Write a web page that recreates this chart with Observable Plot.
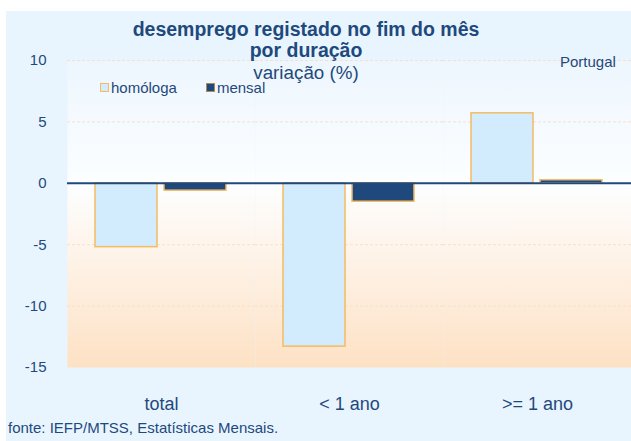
<!DOCTYPE html>
<html>
<head>
<meta charset="utf-8">
<script src="https://cdn.jsdelivr.net/npm/d3@7"></script>
<script src="https://cdn.jsdelivr.net/npm/@observablehq/plot@0.6"></script>
<style>
  html, body { margin: 0; padding: 0; background: #ffffff; }
  #wrap { position: relative; width: 631px; height: 441px; overflow: hidden; font-family: "Liberation Sans", Arial, sans-serif; color: #1f497d; }
  #panel { position: absolute; left: 6px; top: 11px; right: 0; bottom: 0; background: #e8f5fe; }
  #chart { position: absolute; left: 0; top: 0; }
  .t { position: absolute; left: 0; width: 612px; text-align: center; white-space: nowrap; line-height: 1; }
  .b { font-weight: bold; font-size: 19.5px; }
  #leg { position: absolute; top: 80px; left: 100px; font-size: 15px; line-height: 1; white-space: nowrap; }
  #leg span.sw { display: inline-block; width: 7px; height: 7px; margin-right: 2px; vertical-align: 1px; }
  #cap { position: absolute; left: 8px; top: 420px; font-size: 15px; line-height: 1; white-space: nowrap; }
  #pt { position: absolute; left: 560px; top: 54px; font-size: 15px; line-height: 1; }
</style>
</head>
<body>
<div id="wrap">
  <div id="panel"></div>
  <div id="chart"></div>
  <div class="t b" style="top:19.5px">desemprego registado no fim do mês</div>
  <div class="t b" style="top:41px">por duração</div>
  <div class="t" style="top:64px;font-size:18.8px">variação (%)</div>
  <div id="pt">Portugal</div>
  <div id="leg"></div>
  <div id="cap">fonte: IEFP/MTSS, Estatísticas Mensais.</div>
</div>
<script>
const categories = ["total", "< 1 ano", ">= 1 ano"];
const series = ["homóloga", "mensal"];
const homologa = [-5.2, -13.3, 5.7];
const mensal = [-0.6, -1.5, 0.25];
const yTicks = [-15, -10, -5, 0, 5, 10];
const gridValues = [10, 5, -5, -10];

const seriesFill = ["#d3ecfd", "#1f497d"];
const barStroke = "#f5bb62";

const data = categories.flatMap((c, i) => [
  {category: c, series: series[0], value: homologa[i]},
  {category: c, series: series[1], value: mensal[i]}
]);

const chart = Plot.plot({
  width: 631,
  height: 441,
  marginTop: 60,
  marginBottom: 74,
  marginLeft: 66,
  marginRight: 0,
  style: {background: "transparent", fontSize: "15px", fontFamily: "Liberation Sans, Arial, sans-serif", color: "#1f497d"},
  facet: {data, x: "category"},
  fx: {domain: categories, padding: 0, label: null, axis: "bottom", tickSize: 0, tickPadding: 30},
  x: {domain: series, axis: null, paddingInner: 0.1, paddingOuter: 0.4},
  y: {domain: [-15, 10], ticks: yTicks, tickFormat: d => String(d), tickSize: 0, tickPadding: 21, label: null},
  color: {domain: series, range: seriesFill},
  marks: [
    Plot.frame({fill: "url(#bggrad)", stroke: "none"}),
    Plot.ruleY(gridValues, {stroke: "#f7e0cc", strokeDasharray: "3,2", strokeWidth: 1}),
    Plot.barY(data, {x: "series", y: "value", fill: "series", stroke: barStroke, strokeWidth: 1.5}),
    Plot.ruleY([0], {stroke: "#1f497d", strokeWidth: 2})
  ]
});

// gradient definition for plot area
const ns = "http://www.w3.org/2000/svg";
const defs = document.createElementNS(ns, "defs");
const grad = document.createElementNS(ns, "linearGradient");
grad.setAttribute("id", "bggrad");
grad.setAttribute("x1", "0"); grad.setAttribute("y1", "0");
grad.setAttribute("x2", "0"); grad.setAttribute("y2", "1");
[["0", "#edf6fe"], ["0.4", "#fcfeff"], ["0.6", "#fef5ec"], ["1", "#fde1c4"]].forEach(([o, c]) => {
  const s = document.createElementNS(ns, "stop");
  s.setAttribute("offset", o); s.setAttribute("stop-color", c);
  grad.appendChild(s);
});
defs.appendChild(grad);
chart.insertBefore(defs, chart.firstChild);

// larger category labels
chart.querySelectorAll('g[aria-label="fx-axis"] text, g[aria-label="fx-axis tick label"] text').forEach(t => t.style.fontSize = "18px");

document.getElementById("chart").appendChild(chart);

// legend
const leg = document.getElementById("leg");
series.forEach((s, i) => {
  const item = document.createElement("span");
  item.style.marginRight = i === 0 ? "29px" : "0";
  const sw = document.createElement("span");
  sw.className = "sw";
  sw.style.background = seriesFill[i];
  sw.style.border = "1px solid " + (i === 0 ? barStroke : "#b08a50");
  item.appendChild(sw);
  item.appendChild(document.createTextNode(s));
  leg.appendChild(item);
});
</script>
</body>
</html>
